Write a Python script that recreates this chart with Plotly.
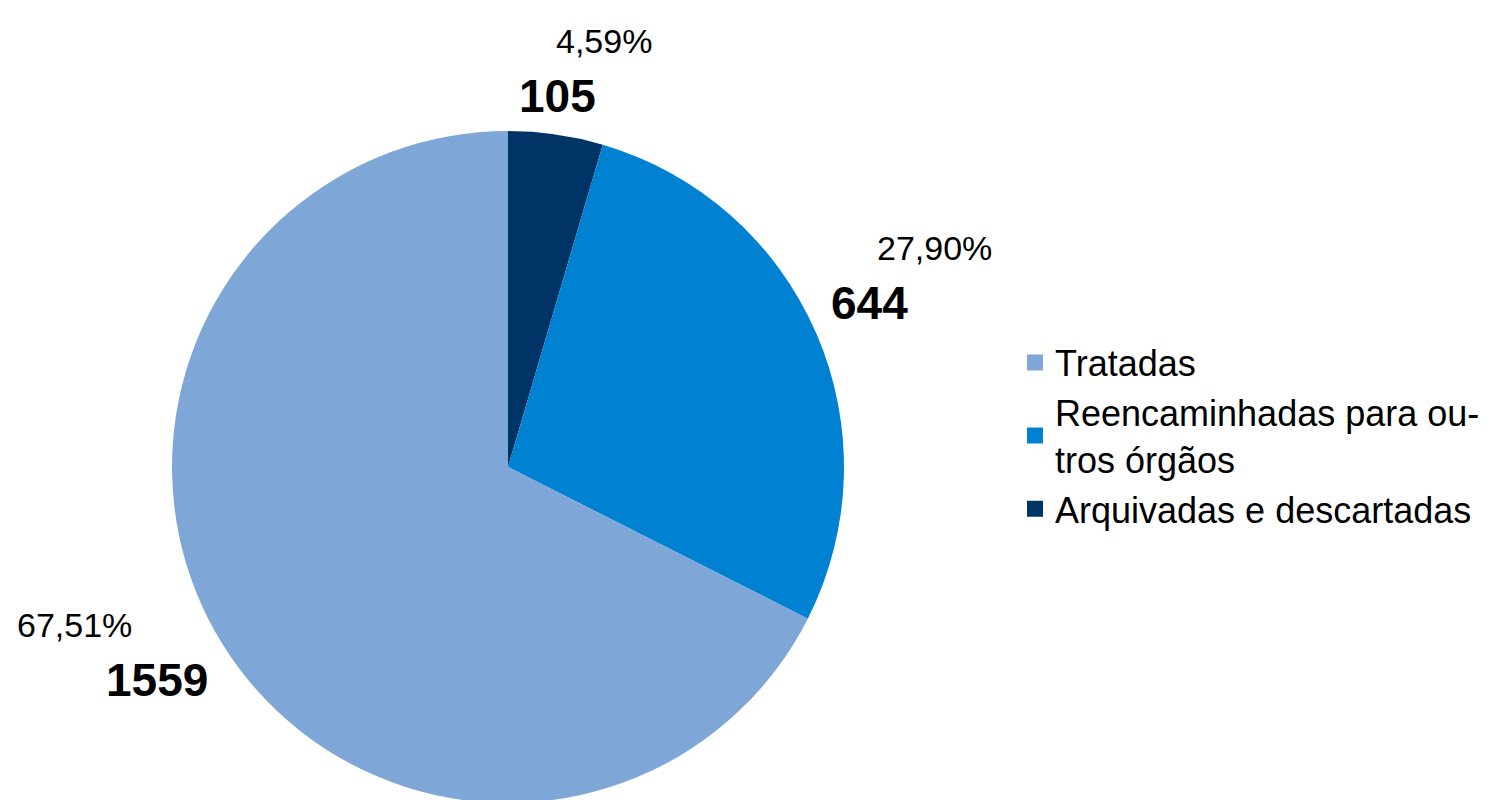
import math
import plotly.graph_objects as go

labels = ["Tratadas", "Reencaminhadas para ou-<br>tros órgãos", "Arquivadas e descartadas"]
values = [1559, 644, 105]
percents = ["67,51%", "27,90%", "4,59%"]
colors = ["#7ea7d8", "#0081d1", "#003466"]

W, H = 1505, 800
FONT = "Liberation Sans"

# pie geometry in pixels (page has an 8px body margin)
cx, cy, r = 500, 459, 336
dom_x = [(cx - r) / W, (cx + r) / W]
dom_y = [(H - cy - r) / H, (H - cy + r) / H]

# slices drawn clockwise from 12 o'clock in reverse order
fig = go.Figure(go.Pie(
    labels=labels[::-1],
    values=values[::-1],
    marker=dict(colors=colors[::-1], line=dict(width=0)),
    sort=False,
    direction="clockwise",
    rotation=0,
    textinfo="none",
    hoverinfo="skip",
    showlegend=False,
    domain=dict(x=dom_x, y=dom_y),
))

# legend entries with bigger square swatches
for name, c in zip(labels, colors):
    fig.add_trace(go.Scatter(
        x=[None], y=[None], mode="markers", name=name,
        marker=dict(symbol="square", size=20, color=c),
        hoverinfo="skip",
    ))

# data labels placed from each slice's mid angle
total = sum(values)
start = 0.0
annotations = []
for v, p in zip(values, percents):
    frac = v / total
    mid = start + frac / 2  # counterclockwise from top
    start += frac
    ang = -mid * 2 * math.pi
    dx, dy = math.sin(ang), -math.cos(ang)  # screen coords, y down
    px = cx + (r + 14) * dx
    py = cy + (r + 14) * dy
    if dx > 0.3:
        xa = "left"
    elif dx < -0.3:
        xa = "right"
    else:
        xa = "center"
    vshift = 25 if dy < 0 else -30
    pxshift = 46 if dx >= 0 else -76
    annotations.append(dict(
        x=px / W, y=1 - py / H, xref="paper", yref="paper",
        text=f"<b>{v}</b>", showarrow=False, xanchor=xa, yanchor="middle",
        yshift=vshift, font=dict(family=FONT, size=46, color="black"),
    ))
    annotations.append(dict(
        x=px / W, y=1 - py / H, xref="paper", yref="paper",
        text=p, showarrow=False, xanchor=xa, yanchor="middle",
        yshift=vshift + 55, xshift=pxshift,
        font=dict(family=FONT, size=34, color="black"),
    ))

fig.update_layout(
    width=W,
    height=H,
    margin=dict(l=0, r=0, t=0, b=0),
    paper_bgcolor="white",
    plot_bgcolor="white",
    font=dict(family=FONT, color="black"),
    showlegend=True,
    xaxis=dict(visible=False),
    yaxis=dict(visible=False),
    legend=dict(
        x=1007 / W, y=1 - 428 / H, xanchor="left", yanchor="middle",
        font=dict(family=FONT, size=36, color="black"),
        tracegroupgap=0,
    ),
    annotations=annotations,
)

fig.write_html("out.html")
